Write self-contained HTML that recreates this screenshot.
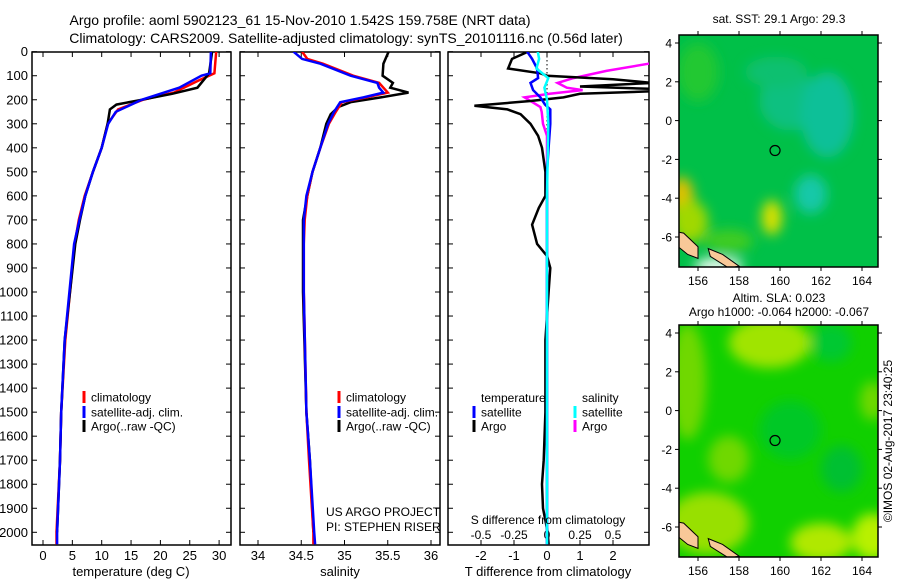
<!DOCTYPE html>
<html><head><meta charset="utf-8">
<style>
html,body{margin:0;padding:0;background:#fff;}
svg{display:block;font-family:"Liberation Sans",sans-serif;}
text{fill:#000;}
</style></head>
<body>
<svg id="chart" width="900" height="580" viewBox="0 0 900 580" xmlns="http://www.w3.org/2000/svg">
<defs>
<clipPath id="c1"><rect x="32" y="52" width="199" height="493"/></clipPath>
<clipPath id="c2"><rect x="240" y="52" width="200" height="493"/></clipPath>
<clipPath id="c3"><rect x="448" y="52" width="201" height="493"/></clipPath>
<clipPath id="m1"><rect x="679" y="35" width="199" height="232"/></clipPath>
<clipPath id="m2"><rect x="679" y="325" width="199" height="232"/></clipPath>
<filter id="bl"><feGaussianBlur stdDeviation="6"/></filter>
</defs>
<text x="300" y="25" font-size="14" text-anchor="middle">Argo profile: aoml 5902123_61 15-Nov-2010 1.542S 159.758E (NRT data)</text>
<text x="346" y="43" font-size="14" text-anchor="middle">Climatology: CARS2009. Satellite-adjusted climatology: synTS_20101116.nc (0.56d later)</text>

<g id="maps"></g>
<g id="p1"></g><g id="p2"></g><g id="p3"></g>

<text x="131" y="576" font-size="13" text-anchor="middle">temperature (deg C)</text>
<text x="340" y="576" font-size="13" text-anchor="middle">salinity</text>
<text x="548" y="576" font-size="13" text-anchor="middle">T difference from climatology</text>
<text x="548" y="524" font-size="12" text-anchor="middle">S difference from climatology</text>
<text x="326" y="516" font-size="12">US ARGO PROJECT</text>
<text x="326" y="531" font-size="12">PI: STEPHEN RISER</text>

<text x="779" y="23" font-size="12" text-anchor="middle">sat. SST: 29.1 Argo: 29.3</text>
<text x="779" y="302" font-size="12" text-anchor="middle">Altim. SLA: 0.023</text>
<text x="779" y="316" font-size="12" text-anchor="middle">Argo h1000: -0.064 h2000: -0.067</text>
<text x="0" y="0" font-size="12" text-anchor="middle" transform="translate(892,441) rotate(-90)">©IMOS 02-Aug-2017 23:40:25</text>
</svg>
<script>
// ---------- data ----------
const depthTicks=[0,100,200,300,400,500,600,700,800,900,1000,1100,1200,1300,1400,1500,1600,1700,1800,1900,2000];
const tempTicks=[0,5,10,15,20,25,30];
const salTicks=[34,34.5,35,35.5,36];
const tdiffTicks=[-2,-1,0,1,2];
const sdiffTicks=[-0.5,-0.25,0,0.25,0.5];
const sdiffTickLabels=["-0.5","-0.25","0","0.25","0.5"];
const lonTicks=[156,158,160,162,164];
const latTicks=[4,2,0,-2,-4,-6];

const tDepthClim=[0,90,120,170,200,240,300,400,500,600,700,800,1000,1200,1500,1700,2000,2050];
const tempClim=[29.5,29.2,26.5,22.3,17,12.8,11,10,8.5,7.1,6.1,5.4,4.6,3.8,3.1,2.9,2.3,2.3];
const tDepthSat=[0,90,100,150,200,250,300,400,500,600,700,800,1000,1200,1500,1700,2000,2050];
const tempSat=[28.6,28.5,27,23.2,16.8,12.4,11.1,10,8.5,7.2,6.2,5.3,4.5,3.7,3.1,2.9,2.4,2.4];
const tDepthArgo=[0,90,150,175,200,220,240,300,400,500,600,700,800,1000,1200,1500,1700,2000];
const tempArgo=[28.8,28.3,26.3,22,16.8,12.5,11.4,11,10,8.5,7.2,6.3,5.5,4.6,3.7,3.1,2.9,2.4];

const sDepthClim=[0,30,50,100,130,150,170,190,210,250,300,400,500,600,700,800,1000,1500,1700,2000,2050];
const salClim=[34.51,34.57,34.75,35.1,35.4,35.45,35.5,35.25,34.97,34.9,34.82,34.72,34.63,34.57,34.54,34.53,34.53,34.56,34.59,34.64,34.64];
const sDepthSat=[0,30,50,100,130,150,170,190,210,250,300,400,500,600,700,800,1000,1500,1700,2000,2050];
const salSat=[34.41,34.51,34.72,35.07,35.38,35.4,35.45,35.22,34.95,34.88,34.81,34.72,34.63,34.56,34.53,34.53,34.53,34.56,34.6,34.65,34.66];
const sDepthArgo=[0,50,100,130,150,170,190,210,230,260,300,400,500,600,700,800,1000,1500,1700,2000];
const salArgo=[35.51,35.45,35.44,35.56,35.53,35.74,35.42,35.07,34.93,34.84,34.79,34.72,34.63,34.57,34.52,34.52,34.52,34.56,34.6,34.64];

const dDepthT=[0,30,70,90,100,115,130,145,155,165,175,190,205,225,240,260,300,350,400,500,600,650,720,800,850,900,1000,1200,1500,1700,1800,1900,2000,2050];
const tdiffArgo=[-0.58,-1.06,-1.18,-0.2,0,2,3.2,1,3.2,3.2,1,0.5,-0.5,-2.2,-1.2,-0.8,-0.5,-0.27,-0.15,-0.05,-0.05,-0.25,-0.45,-0.3,0,0.1,0.05,-0.05,-0.05,-0.1,-0.15,-0.12,0.02,0.05];
const dDepthTS=[0,30,70,110,130,160,190,220,240,300,400,500,1000,1500,2050];
const tdiffSat=[-0.6,-0.45,-0.3,-0.27,-0.5,-0.42,-0.2,-0.06,0.1,0.1,0.05,0,0,0,0];
const dDepthS=[0,30,70,110,150,200,300,600,1000,1500,2050];
const sdiffSat=[-0.07,-0.06,-0.08,0.01,-0.02,0,0.01,0,0,0,0];
const dDepthSA=[40,50,80,110,130,150,160,175,190,210,230,250,300,350,600,1000,1500,2050];
const sdiffArgo=[0.9,0.77,0.45,0.2,0.08,0.15,0.27,0.02,-0.17,-0.11,-0.05,-0.04,-0.03,0,0,0,0,0];

const floatLon=159.758, floatLat=-1.542;

// ---------- helpers ----------
const NS="http://www.w3.org/2000/svg";
function mk(tag,attrs,parent){const e=document.createElementNS(NS,tag);for(const k in attrs)e.setAttribute(k,attrs[k]);parent.appendChild(e);return e;}
const yD=d=>51.7+d*0.2403;
const xT=t=>43+5.87*t;
const xS=s=>258+86.5*(s-34);
const xDT=t=>547+33*t;
const xDS=s=>547+132*s;
function pathOf(depths,vals,fx){return depths.map((d,i)=>(i?'L':'M')+fx(vals[i]).toFixed(1)+','+yD(d).toFixed(1)).join('');}

function frame(g,x0,x1,ticksX,fx,labels,leftLabels){
  const y0=52,y1=545;
  const r=mk('rect',{x:x0,y:y0,width:x1-x0,height:y1-y0,fill:'none',stroke:'#000','stroke-width':1.5},g);
  
  
  depthTicks.forEach(d=>{
    mk('line',{x1:x0,x2:x0+5,y1:yD(d),y2:yD(d),stroke:'#000'},g);
    mk('line',{x1:x1-5,x2:x1,y1:yD(d),y2:yD(d),stroke:'#000'},g);
    if(leftLabels){const t=mk('text',{x:x0-4,y:yD(d)+4.5,'font-size':13,'text-anchor':'end'},g);t.textContent=d;
      
      }
  });
  ticksX.forEach((v,i)=>{
    const x=fx(v);
    mk('line',{x1:x,x2:x,y1:y1,y2:y1-5,stroke:'#000'},g);
    mk('line',{x1:x,x2:x,y1:y0,y2:y0+5,stroke:'#000'},g);
    const t=mk('text',{x:x,y:560,'font-size':13,'text-anchor':'middle'},g);t.textContent=labels?labels[i]:v;
    
    
  });
}
function series(g,clip,depths,vals,fx,color,name,w){
  const p=mk('path',{d:pathOf(depths,vals,fx),fill:'none',stroke:color,'stroke-width':w||2.5,'clip-path':'url(#'+clip+')','stroke-linejoin':'miter'},g);
  
  
}
function legend(g,x,y,color,label,name){
  mk('rect',{x:x-1.5,y:y-6,width:3,height:12,fill:color},g);
  const t=mk('text',{x:x+7,y:y+4.5,'font-size':12},g);t.textContent=label;
  
  
}

// ---------- panel 1 ----------
const p1=document.getElementById('p1');


frame(p1,32,231,tempTicks,xT,null,true);
series(p1,'c1',tDepthClim,tempClim,xT,'#ff0000','climatology-temperature-line');
series(p1,'c1',tDepthArgo,tempArgo,xT,'#000000','argo-temperature-line');
series(p1,'c1',tDepthSat,tempSat,xT,'#0000ff','satellite-temperature-line');
legend(p1,84,397,'#f00','climatology','legend-climatology');
legend(p1,84,412,'#00f','satellite-adj. clim.','legend-satellite');
legend(p1,84,426,'#000','Argo(..raw -QC)','legend-argo');

// ---------- panel 2 ----------
const p2=document.getElementById('p2');


frame(p2,240,440,salTicks,xS,null,false);
series(p2,'c2',sDepthArgo,salArgo,xS,'#000000','argo-salinity-line');
series(p2,'c2',sDepthClim,salClim,xS,'#ff0000','climatology-salinity-line');
series(p2,'c2',sDepthSat,salSat,xS,'#0000ff','satellite-salinity-line');
const lg2=mk('g',{'clip-path':'url(#c2)'},p2);
legend(lg2,339,397,'#f00','climatology','legend-climatology-2');
legend(lg2,339,412,'#00f','satellite-adj. clim.','legend-satellite-2');
legend(lg2,339,426,'#000','Argo(..raw -QC)','legend-argo-2');

// ---------- panel 3 ----------
const p3=document.getElementById('p3');


frame(p3,448,649,tdiffTicks,xDT,null,false);
sdiffTicks.forEach((v,i)=>{const t=mk('text',{x:xDS(v),y:539,'font-size':12,'text-anchor':'middle'},p3);t.textContent=sdiffTickLabels[i];
  
  });
const zl=mk('line',{x1:xDT(0),x2:xDT(0),y1:52,y2:140,stroke:'#000','stroke-dasharray':'1.5,2.5'},p3);


series(p3,'c3',dDepthSA,sdiffArgo,xDS,'#ff00ff','argo-salinity-diff-line');
series(p3,'c3',dDepthT,tdiffArgo,xDT,'#000000','argo-temperature-diff-line');
series(p3,'c3',dDepthTS,tdiffSat,xDT,'#0000ff','satellite-temperature-diff-line');
series(p3,'c3',dDepthS,sdiffSat,xDS,'#00ffff','satellite-salinity-diff-line');
{const t=mk('text',{x:481,y:402,'font-size':12},p3);t.textContent='temperature';
 
 
 const s=mk('text',{x:582,y:402,'font-size':12},p3);s.textContent='salinity';
 
 }
legend(p3,474,412,'#00f','satellite','legend-t-satellite');
legend(p3,474,426,'#000','Argo','legend-t-argo');
legend(p3,575,412,'#0ff','satellite','legend-s-satellite');
legend(p3,575,426,'#f0f','Argo','legend-s-argo');

// ---------- maps ----------
const maps=document.getElementById('maps');
function mapFrame(id,top,lat4y,scale,base,blobs,name){
  const g=mk('g',{},maps);
  
  
  const xL=lon=>677.5+20.5*(lon-155);
  const yL=lat=>lat4y+(4-lat)*scale;
  const c=mk('g',{'clip-path':'url(#'+id+')'},g);
  mk('rect',{x:679,y:top,width:199,height:232,fill:base},c);
  const b=mk('g',{filter:'url(#bl)'},c);
  blobs.forEach(o=>mk('ellipse',{cx:xL(o[0]),cy:yL(o[1]),rx:o[2]*20.5,ry:o[3]*scale,fill:o[4]},b));
  const land=mk('path',{d:`M${xL(154.8)},${yL(-5.7)} L${xL(155.3)},${yL(-5.8)} L${xL(156)},${yL(-6.5)} L${xL(156)},${yL(-7.1)} L${xL(155.5)},${yL(-6.9)} L${xL(154.8)},${yL(-6.3)} Z M${xL(156.5)},${yL(-6.6)} L${xL(157.2)},${yL(-6.9)} L${xL(158)},${yL(-7.5)} L${xL(157.5)},${yL(-7.6)} L${xL(156.6)},${yL(-7.0)} Z`,fill:'#f8c898',stroke:'#000','stroke-width':1},c);
  
  
  const circ=mk('circle',{cx:xL(floatLon),cy:yL(floatLat),r:5,fill:'none',stroke:'#000','stroke-width':1.2},g);
  
  
  mk('rect',{x:679,y:top,width:199,height:232,fill:'none',stroke:'#000','stroke-width':1.5},g);
  lonTicks.forEach(v=>{const x=xL(v);
    mk('line',{x1:x,x2:x,y1:top,y2:top-4,stroke:'#000'},g);
    mk('line',{x1:x,x2:x,y1:top+232,y2:top+236,stroke:'#000'},g);
    const t=mk('text',{x:x,y:top+250,'font-size':12,'text-anchor':'middle'},g);t.textContent=v;
    
    });
  latTicks.forEach(v=>{const y=yL(v);
    mk('line',{x1:679,x2:675,y1:y,y2:y,stroke:'#000'},g);
    mk('line',{x1:878,x2:882,y1:y,y2:y,stroke:'#000'},g);
    const t=mk('text',{x:672,y:y+4.5,'font-size':12,'text-anchor':'end'},g);t.textContent=v;
    
    });
}
mapFrame('m1',35,43,19.4,'#00c048',[
  [160.5,1,1.5,1.5,'#10c080'],[162.3,0.3,1.3,2.2,'#10c098'],[161.5,-3.8,0.8,1,'#18c8a8'],[159.8,2.5,1.5,0.8,'#10c070'],
  [156,2.5,1,1.5,'#20c830'],[155.2,-4,0.6,1.1,'#e0c000'],[155.6,-5.2,0.9,1.1,'#a0d800'],[159.6,-5,0.5,0.9,'#d8e000'],
  [157.5,-6.2,1.2,0.6,'#40cc20'],[157,-7.5,1.2,0.4,'#ffffff']
],'sst-map');
mapFrame('m2',325,333,19.4,'#10d000',[
  [159.5,3.5,2,1.3,'#a0e400'],[155.5,1.5,0.9,3,'#70d800'],[157.5,-2.5,1,1.2,'#70d800'],[156.5,-5.8,2,1.6,'#98e000'],
  [162,-6.8,1.5,1,'#b0e800'],[164.5,-6.5,1,1.2,'#b8f000'],[164.5,0.5,0.6,1,'#70d800'],[163,-3,1,1.2,'#00c030'],
  [160.5,-1,1.5,1.5,'#00c828'],[162.5,3.5,1,1,'#00c830']
],'sla-map');
</script>
</body></html>
